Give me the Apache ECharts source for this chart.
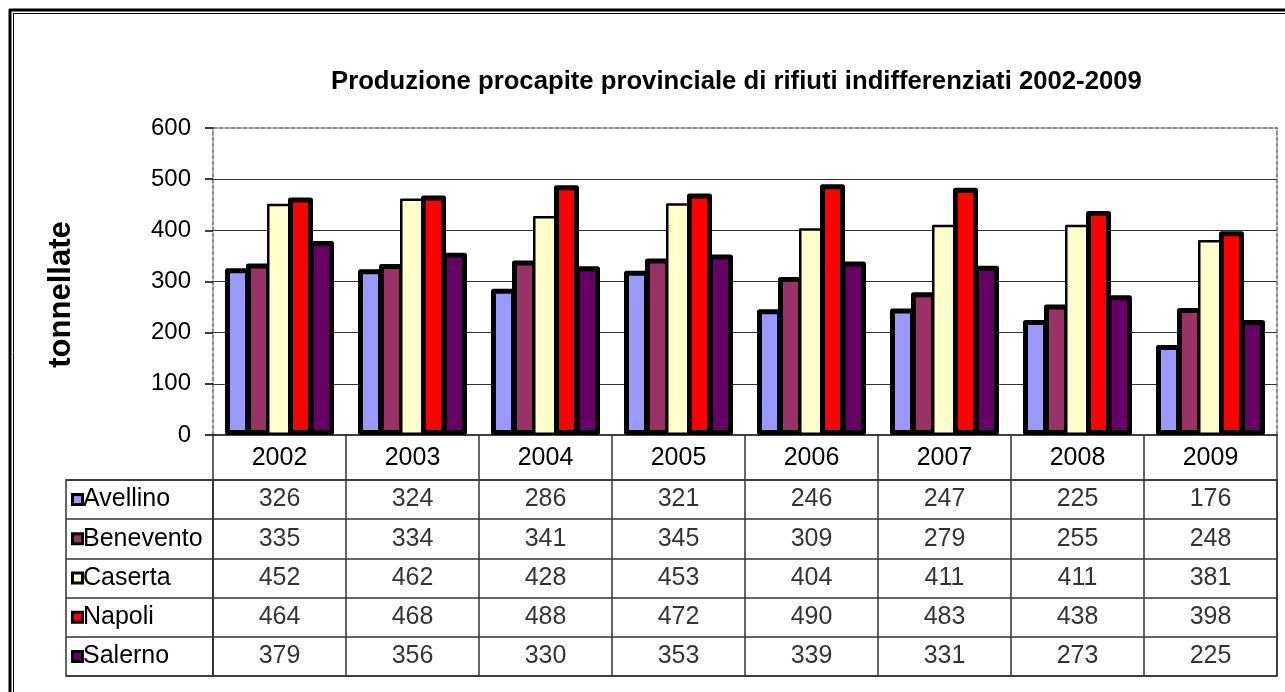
<!DOCTYPE html>
<html>
<head>
<meta charset="utf-8">
<script src="https://cdn.jsdelivr.net/npm/echarts@6/dist/echarts.min.js"></script>
<style>
  html, body { margin: 0; padding: 0; background: #fff; }
  #chart { width: 1285px; height: 692px; }
</style>
</head>
<body>
<div id="chart"></div>
<script>
// values
const years = ['2002', '2003', '2004', '2005', '2006', '2007', '2008', '2009'];
const provinces = ['Avellino', 'Benevento', 'Caserta', 'Napoli', 'Salerno'];
const avellino = [326, 324, 286, 321, 246, 247, 225, 176];
const benevento = [335, 334, 341, 345, 309, 279, 255, 248];
const caserta = [452, 462, 428, 453, 404, 411, 411, 381];
const napoli = [464, 468, 488, 472, 490, 483, 438, 398];
const salerno = [379, 356, 330, 353, 339, 331, 273, 225];
const colors = ['#9999FF', '#993366', '#FFFFCC', '#FF0000', '#660066'];

const rows = [avellino, benevento, caserta, napoli, salerno];
const font = "'Liberation Sans', Arial, sans-serif";
const dashed = {color: '#666', width: 1.5, type: [4, 2]};
const tableFont = 25;

const chartDom = document.getElementById('chart');
const myChart = echarts.init(chartDom);

// cells of the data table: [year index, province index, value]
const cells = [];
rows.forEach((arr, r) => {
    arr.forEach((v, i) => cells.push([i, r, v]));
});

// rich styles for the little legend keys in the table
const rich = {t: {fontSize: tableFont, fontFamily: font, color: '#000', padding: [0, 0, 0, 2]}};
colors.forEach((c, i) => {
    rich['k' + i] = {
        width: 7, height: 7,
        backgroundColor: c,
        borderColor: '#000',
        borderWidth: 3
    };
});

const barSeries = provinces.map((name, i) => ({
    name: name,
    type: 'bar',
    xAxisIndex: 0,
    yAxisIndex: 0,
    data: rows[i],
    barWidth: 25,
    barGap: '-16%',
    itemStyle: {
        color: colors[i],
        borderColor: '#000',
        borderWidth: name === 'Caserta' ? 2.5 : 5,
        borderJoin: 'round'
    }
}));

const option = {
    animation: false,
    backgroundColor: '#fff',
    textStyle: {fontFamily: font},
    title: {
        text: 'Produzione procapite provinciale di rifiuti indifferenziati 2002-2009',
        left: 326,
        top: 64,
        textStyle: {fontSize: 25.7, fontWeight: 'bold', color: '#000', fontFamily: font}
    },
    grid: [
        {left: 213, top: 128, width: 1064, height: 307, outerBoundsMode: 'none', containLabel: false},
        {left: 213, top: 480, width: 1064, height: 196, show: true, borderColor: '#333', borderWidth: 1.5,
            outerBoundsMode: 'none', containLabel: false},
        {left: 66, top: 480, width: 147, height: 196, show: true, borderColor: '#333', borderWidth: 1.5,
            outerBoundsMode: 'none', containLabel: false}
    ],
    xAxis: [
        {
            type: 'category',
            gridIndex: 0,
            data: years,
            z: 1,
            axisLine: {show: true, lineStyle: {color: '#000', width: 1.5}},
            axisTick: {show: true, length: 45, lineStyle: {color: '#333', width: 1.5}},
            axisLabel: {margin: 11, fontSize: tableFont, color: '#000', fontFamily: font}
        },
        {
            // dashed top edge of the plot area
            type: 'category',
            gridIndex: 0,
            position: 'top',
            data: years,
            axisLine: {show: true, onZero: false, lineStyle: dashed},
            axisTick: {show: false},
            axisLabel: {show: false}
        },
        {
            type: 'category',
            gridIndex: 1,
            data: years,
            axisLine: {show: false},
            axisTick: {show: false},
            axisLabel: {show: false},
            splitLine: {show: true, interval: 0, lineStyle: {color: '#333', width: 1.5}}
        },
        {
            type: 'category',
            gridIndex: 2,
            data: [''],
            axisLine: {show: false},
            axisTick: {show: false},
            axisLabel: {show: false}
        }
    ],
    yAxis: [
        {
            type: 'value',
            gridIndex: 0,
            min: 0,
            max: 600,
            interval: 100,
            name: 'tonnellate',
            nameLocation: 'middle',
            nameGap: 136,
            nameTextStyle: {fontSize: 31, fontWeight: 'bold', color: '#000', fontFamily: font, padding: [0, 26, 0, 0]},
            axisLine: {show: true, onZero: false, lineStyle: dashed},
            axisTick: {show: true, length: 8, lineStyle: {color: '#000', width: 1.5}},
            axisLabel: {margin: 22, fontSize: 24, color: '#000', fontFamily: font},
            splitLine: {show: true, showMinLine: false, showMaxLine: false, lineStyle: {color: '#333', width: 1.2}}
        },
        {
            // dashed right edge of the plot area
            type: 'value',
            gridIndex: 0,
            position: 'right',
            min: 0,
            max: 600,
            interval: 100,
            axisLine: {show: true, onZero: false, lineStyle: dashed},
            axisTick: {show: false},
            axisLabel: {show: false},
            splitLine: {show: false}
        },
        {
            type: 'category',
            gridIndex: 1,
            inverse: true,
            data: provinces,
            axisLine: {show: false},
            axisTick: {show: false},
            axisLabel: {show: false},
            splitLine: {show: true, interval: 0, lineStyle: {color: '#333', width: 1.5}}
        },
        {
            type: 'category',
            gridIndex: 2,
            inverse: true,
            data: provinces,
            axisLine: {show: false},
            axisTick: {show: false},
            axisLabel: {
                inside: true,
                margin: 8,
                interval: 0,
                formatter: function (value, idx) {
                    return '{k' + idx + '|}{t|' + value + '}';
                },
                rich: rich
            },
            splitLine: {show: true, interval: 0, lineStyle: {color: '#333', width: 1.5}}
        }
    ],
    graphic: [
        // outer frame, left and top
        {type: 'line', silent: true, shape: {x1: 10, y1: 9, x2: 10, y2: 692}, style: {stroke: '#000', lineWidth: 3}},
        {type: 'line', silent: true, shape: {x1: 13.5, y1: 13, x2: 13.5, y2: 692}, style: {stroke: '#000', lineWidth: 1}},
        {type: 'line', silent: true, shape: {x1: 9, y1: 10, x2: 1285, y2: 10}, style: {stroke: '#000', lineWidth: 3}},
        {type: 'line', silent: true, shape: {x1: 13, y1: 13.5, x2: 1285, y2: 13.5}, style: {stroke: '#000', lineWidth: 1}}
    ],
    series: barSeries.concat([
        {
            name: 'table',
            type: 'scatter',
            xAxisIndex: 2,
            yAxisIndex: 2,
            data: cells,
            symbolSize: 1,
            itemStyle: {color: 'rgba(0,0,0,0)'},
            label: {
                show: true,
                position: 'inside',
                fontSize: tableFont,
                color: '#000',
                fontFamily: font,
                formatter: function (p) {
                    return p.value[2];
                }
            },
            silent: true
        }
    ])
};

myChart.setOption(option);

window.addEventListener('resize', function () {
    myChart.resize();
});
</script>
</body>
</html>
